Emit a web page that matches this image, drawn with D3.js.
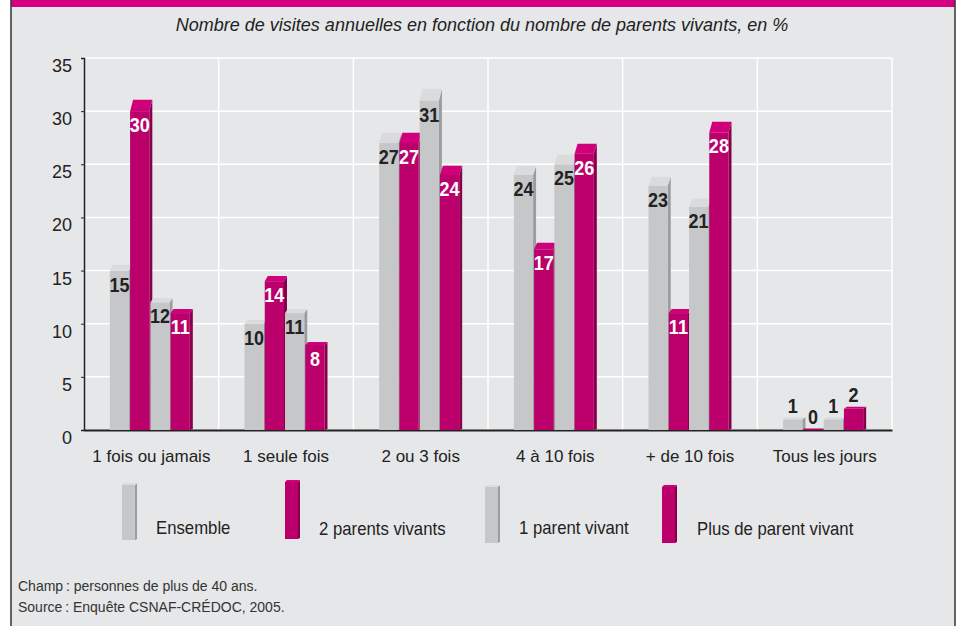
<!DOCTYPE html>
<html><head><meta charset="utf-8">
<script src="https://cdn.jsdelivr.net/npm/d3@7/dist/d3.min.js"></script>
<style>
html,body{margin:0;padding:0;background:#fff;}
text{font-family:"Liberation Sans",Arial,sans-serif;}
</style></head>
<body>
<svg id="chart" width="960" height="626"></svg>
<script>
const categories = ["1 fois ou jamais","1 seule fois","2 ou 3 fois","4 à 10 fois","+ de 10 fois","Tous les jours"];
const seriesNames = ["Ensemble","2 parents vivants","1 parent vivant","Plus de parent vivant"];
const ensemble = [15,10,27,24,23,1];
const deuxParents = [30,14,27,17,11,0];
const unParent = [12,11,31,25,21,1];
const plusDeParent = [11,8,24,26,28,2];
const yTicks = [0,5,10,15,20,25,30,35];
const title = "Nombre de visites annuelles en fonction du nombre de parents vivants, en %";
const notes = ["Champ\u202F: personnes de plus de 40 ans.","Source\u202F: Enquête CSNAF-CRÉDOC, 2005."];

const seriesValues = [ensemble, deuxParents, unParent, plusDeParent];
const palettes = {
  gray:{front:"#c6c7c9", side:"#9b9c9e", top:"#dadbdd", label:"#222"},
  mag:{front:"#bb006b", side:"#87004e", top:"#cf0079", label:"#fff"}
};
const seriesColor = ["gray","mag","gray","mag"];

const svg = d3.select("#chart");
// panel
svg.append("rect").attr("x",11).attr("y",0).attr("width",944).attr("height",626).attr("fill","#e6e7e9");
svg.append("rect").attr("x",11).attr("y",0).attr("width",944).attr("height",7).attr("fill","#d5007f");
svg.append("line").attr("x1",11).attr("x2",11).attr("y1",0).attr("y2",626).attr("stroke","#333").attr("stroke-width",1.5);
svg.append("line").attr("x1",955).attr("x2",955).attr("y1",0).attr("y2",626).attr("stroke","#333").attr("stroke-width",1.5);

svg.append("text").attr("x",482).attr("y",31).attr("text-anchor","middle")
  .attr("font-size",18).attr("font-style","italic").attr("fill","#222").text(title);

const x0 = d3.scaleBand().domain(categories).range([84,892]).padding(0);
const x1 = d3.scaleBand().domain(seriesNames).range([0,80]).paddingInner(0.05);
const y = d3.scaleLinear().domain([0,35]).range([430,58]);
const y0 = y(0);

// grid
const g = svg.append("g");
g.selectAll(".hg").data(yTicks.filter(t=>t>0)).join("line")
  .attr("x1",84).attr("x2",892).attr("y1",d=>y(d)).attr("y2",d=>y(d))
  .attr("stroke","#fff").attr("stroke-width",1.5);
g.selectAll(".vg").data(categories).join("line")
  .attr("x1",d=>x0(d)+x0.bandwidth()).attr("x2",d=>x0(d)+x0.bandwidth())
  .attr("y1",y(35)).attr("y2",y0).attr("stroke","#fff").attr("stroke-width",1.5);

// axes
const yAxis = d3.axisLeft(y).tickValues(yTicks).tickSize(3).tickFormat(d3.format("d"));
const ya = svg.append("g").attr("transform","translate(84,0)").call(yAxis);
ya.select(".domain").attr("stroke","#222").attr("stroke-width",1.5);
ya.selectAll(".tick line").attr("stroke","#222");
ya.selectAll(".tick text").attr("font-size",18).attr("fill","#222").attr("x",-12).attr("dy","0.75em")
  .style("font-family",'"Liberation Sans",Arial,sans-serif');

const xAxis = d3.axisBottom(x0).tickSize(0).tickPadding(0);
const xa = svg.append("g").attr("transform",`translate(0,${y0})`).call(xAxis);
xa.select(".domain").attr("stroke","#222").attr("stroke-width",2);
xa.selectAll(".tick text").attr("font-size",17).attr("fill","#222").attr("y",32).attr("dy",0)
  .style("font-family",'"Liberation Sans",Arial,sans-serif');

// bars
const side = 3;
function drawBar(parent, x, w, v, pal, base){
  const yt = Math.min(y(v), base-1.5);
  const d = Math.max(v*0.38, v>0?2:0);
  parent.append("polygon")
    .attr("points",[[x+w,yt],[x+w+side,yt-d],[x+w+side,base-1],[x+w,base]].map(p=>p.join(",")).join(" "))
    .attr("fill",pal.side);
  parent.append("rect").attr("x",x).attr("y",yt).attr("width",w).attr("height",base-yt).attr("fill",pal.front);
  if(d>0) parent.append("polygon")
    .attr("points",[[x,yt],[x+side,yt-d],[x+w+side,yt-d],[x+w,yt]].map(p=>p.join(",")).join(" "))
    .attr("fill",pal.top);
}
const bars = svg.append("g");
const labels = svg.append("g");
categories.forEach((c,ci)=>{
  const gx = x0(c) + (x0.bandwidth()-83)/2;
  seriesNames.forEach((s,si)=>{
    const v = seriesValues[si][ci];
    const pal = palettes[seriesColor[si]];
    const bx = gx + x1(s);
    drawBar(bars, bx, x1.bandwidth(), v, pal, y0);
    const small = v < 5;
    const lx = bx + x1.bandwidth()/2;
    const ly = small ? y(v) - 6 - v*0.38 : y(v) + 21;
    labels.append("text").attr("transform",`translate(${lx},${ly}) scale(0.9,1)`)
      .attr("text-anchor","middle").attr("font-size",20).attr("font-weight","bold")
      .attr("fill", small ? "#222" : pal.label).text(v);
  });
});

// legend
const legendItems = [
  {x:122, top:483, bottom:540, tx:156, ty:534},
  {x:285, top:480, bottom:539, tx:319, ty:535},
  {x:485, top:485, bottom:543, tx:519, ty:534},
  {x:662, top:485, bottom:543, tx:697, ty:535}
];
const lg = svg.append("g");
seriesNames.forEach((s,i)=>{
  const it = legendItems[i];
  const pal = palettes[seriesColor[i]];
  const w = 13;
  lg.append("polygon").attr("points",[[it.x+w,it.top+2],[it.x+w+2,it.top],[it.x+w+2,it.bottom-1],[it.x+w,it.bottom]].map(p=>p.join(",")).join(" ")).attr("fill",pal.side);
  lg.append("rect").attr("x",it.x).attr("y",it.top+2).attr("width",w).attr("height",it.bottom-it.top-2).attr("fill",pal.front);
  lg.append("polygon").attr("points",[[it.x,it.top+2],[it.x+2,it.top],[it.x+w+2,it.top],[it.x+w,it.top+2]].map(p=>p.join(",")).join(" ")).attr("fill",pal.top);
  lg.append("text").attr("transform",`translate(${it.tx},${it.ty}) scale(0.93,1)`).attr("font-size",18).attr("fill","#222").text(s);
});

// notes
notes.forEach((n,i)=>{
  svg.append("text").attr("x",18).attr("y",591+i*21).attr("font-size",14).attr("fill","#333").text(n);
});
</script>
</body></html>
